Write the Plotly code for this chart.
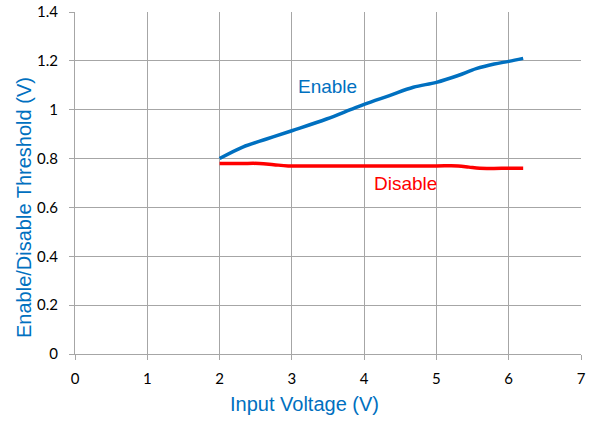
import plotly.graph_objects as go

enable_x = [2.0, 2.32, 2.65, 3.0, 3.48, 3.81, 4.0, 4.35, 4.68, 5.0, 5.3, 5.55, 5.8, 6.0, 6.2]
enable_y = [0.80, 0.847, 0.88, 0.914, 0.962, 1.0, 1.022, 1.058, 1.092, 1.112, 1.14, 1.168, 1.187, 1.198, 1.21]
disable_x = [2.0, 2.3, 2.55, 2.75, 2.95, 3.5, 4.0, 4.5, 5.0, 5.3, 5.45, 5.6, 5.9, 6.2]
disable_y = [0.78, 0.78, 0.78, 0.775, 0.77, 0.77, 0.77, 0.77, 0.77, 0.77, 0.765, 0.76, 0.76, 0.76]

x_title = "Input Voltage (V)"
y_title = "Enable/Disable Threshold (V)"
y_ticks = [0, 0.2, 0.4, 0.6, 0.8, 1.0, 1.2, 1.4]
y_ticktext = ["0", "0.2", "0.4", "0.6", "0.8", "1", "1.2", "1.4"]

blue = "#0070C0"
red = "#FF0000"
title_font = dict(family="Liberation Sans", size=20, color=blue)

fig = go.Figure()
fig.add_trace(go.Scatter(x=enable_x, y=enable_y, mode="lines",
                         line=dict(color=blue, width=3.5, shape="spline"), showlegend=False))
fig.add_trace(go.Scatter(x=disable_x, y=disable_y, mode="lines",
                         line=dict(color=red, width=3.5, shape="spline"), showlegend=False))

fig.add_annotation(x=3.49, y=1.097, text="Enable", showarrow=False,
                   font=dict(family="Liberation Sans", size=19, color=blue))
fig.add_annotation(x=4.57, y=0.699, text="Disable", showarrow=False,
                   font=dict(family="Liberation Sans", size=19, color=red))

# axis titles
fig.add_annotation(x=0.5, y=0, xref="paper", yref="paper", text=x_title, showarrow=False,
                   xanchor="center", yanchor="middle", xshift=-24, yshift=-50, font=title_font)
fig.add_annotation(x=0, y=0.5, xref="paper", yref="paper", text=y_title, showarrow=False,
                   xanchor="center", yanchor="middle", xshift=-51, yshift=-25, textangle=-90,
                   font=title_font)

grid = "#A6A6A6"
fig.update_layout(
    width=592, height=421,
    margin=dict(l=75, r=11, t=12, b=67),
    paper_bgcolor="white", plot_bgcolor="white",
    font=dict(family="Lato", size=15, color="black"),
    xaxis=dict(range=[0, 7], dtick=1, tick0=0, showgrid=True, gridcolor=grid, gridwidth=1,
               showline=True, linecolor=grid, linewidth=1,
               ticks="outside", ticklen=5, tickcolor=grid, zeroline=False,
               ticklabelstandoff=6, ticklabeloverflow="allow", automargin=False),
    yaxis=dict(range=[0, 1.4], showgrid=True, gridcolor=grid, gridwidth=1,
               showline=True, linecolor=grid, linewidth=1,
               ticks="outside", ticklen=5, tickcolor=grid, zeroline=False,
               tickvals=y_ticks, ticktext=y_ticktext,
               ticklabelstandoff=8, ticklabeloverflow="allow", automargin=False),
)

fig.write_html("out.html", config={"displayModeBar": False},
               post_script="document.body.style.margin='0px';")
